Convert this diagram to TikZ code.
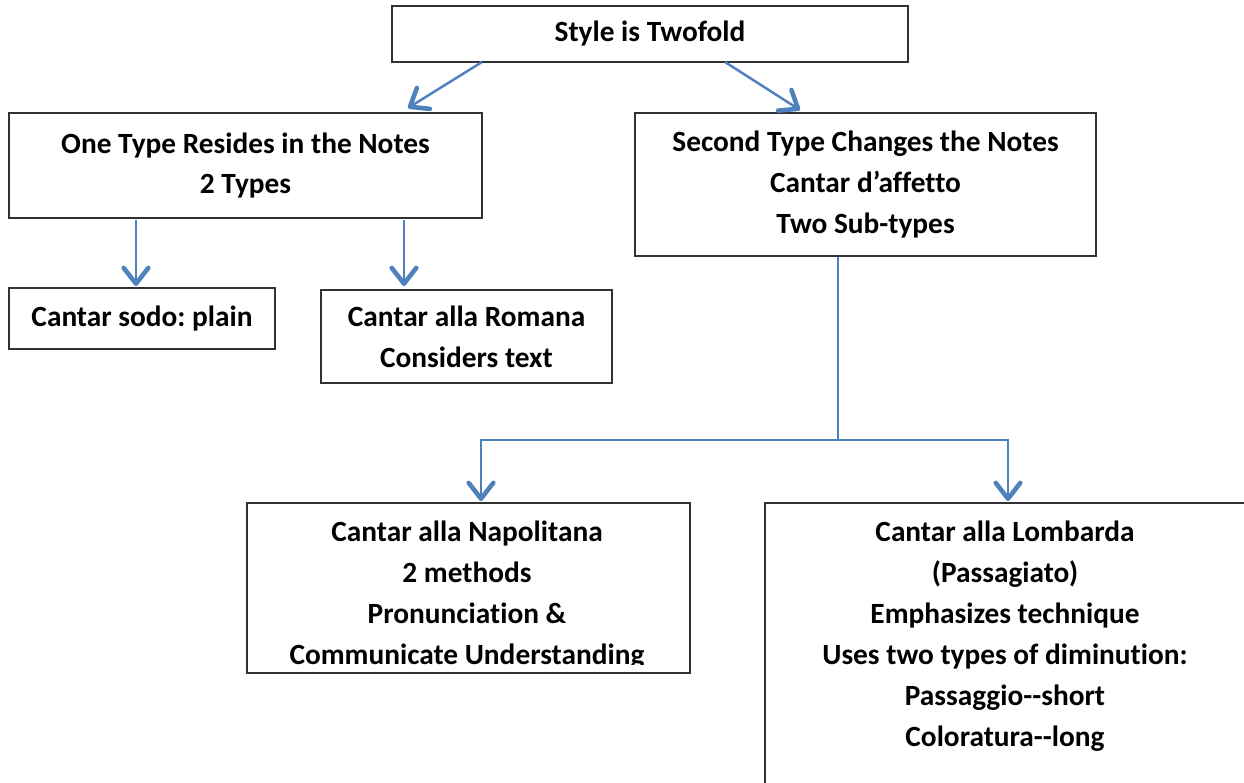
\documentclass[tikz,border=0pt]{standalone}
\usepackage{fontspec}
\setmainfont[Ligatures=NoCommon]{Carlito}
\usetikzlibrary{arrows.meta}
\definecolor{linkblue}{RGB}{79,129,189}
\definecolor{boxgray}{RGB}{50,50,50}
\frenchspacing

\begin{document}
\begin{tikzpicture}[x=0.02cm, y=-0.02cm,
  boxnode/.style={rectangle, draw=boxgray, line width=0.8pt, fill=white, inner sep=0pt},
  txt/.style={align=center, font=\bfseries\fontsize{16.7}{23.3}\selectfont},
  arr/.style={line width=1.4pt, color=linkblue, -{Straight Barb[length=9pt, width=14pt, line width=2.6pt, round]}}]
\useasboundingbox (0,0) rectangle (1244,782);
\clip (0,0) rectangle (1244,782);
%top level
\node[boxnode, txt, minimum width=10.32cm, minimum height=1.12cm] at (650,34) (twofold) {Style is Twofold};
\node[boxnode, txt, minimum width=9.46cm, minimum height=2.1cm] at (245.5,165.5) (notes) {One Type Resides in the Notes\\2 Types};
\node[boxnode, txt, minimum width=9.22cm, minimum height=2.86cm] at (865.5,184.5) (changes) {Second Type Changes the Notes\\Cantar d'affetto\\Two Sub-types};
\coordinate (tl) at (482,62);
\coordinate (tr) at (725,62);
\coordinate (notesin) at (408,108);
\coordinate (changesin) at (800,110);
\draw[arr] (tl) -- (notesin);
\draw[arr] (tr) -- (changesin);
%first type
\node[boxnode, txt, minimum width=5.32cm, minimum height=1.22cm] at (142,318.5) (sodo) {Cantar sodo: plain};
\node[boxnode, txt, minimum width=5.82cm, minimum height=1.86cm] at (466.5,336.5) (romana) {Cantar alla Romana\\Considers text};
\coordinate (sodoout) at (136,220);
\coordinate (sodoin) at (136,286);
\coordinate (romout) at (404,220);
\coordinate (romin) at (404,286);
\draw[arr] (sodoout) -- (sodoin);
\draw[arr] (romout) -- (romin);
%second type
\node[boxnode, minimum width=8.86cm, minimum height=3.4cm] at (468.5,588) (napol) {};
\begin{scope}
\clip (247,503) rectangle (690,664);
\node[txt] at (467,595) (napoltxt) {Cantar alla Napolitana\\2 methods\\Pronunciation \&\\Communicate Understanding};
\end{scope}
\node[boxnode, minimum width=10.7cm, minimum height=6.54cm] at (1032.5,666.5) (lomb) {};
\node[txt] at (1005,636.5) (lombtxt) {Cantar alla Lombarda\\(Passagiato)\\Emphasizes technique\\Uses two types of diminution:\\Passaggio-{}-short\\Coloratura-{}-long};
\coordinate (split) at (838,440);
\coordinate (napolin) at (481,501);
\coordinate (lombin) at (1008,501);
\draw[line width=1.4pt, color=linkblue] (changes.south -| split) -- (split);
\draw[arr] (split) -| (napolin);
\draw[arr] (split) -| (lombin);
\end{tikzpicture}
\end{document}
